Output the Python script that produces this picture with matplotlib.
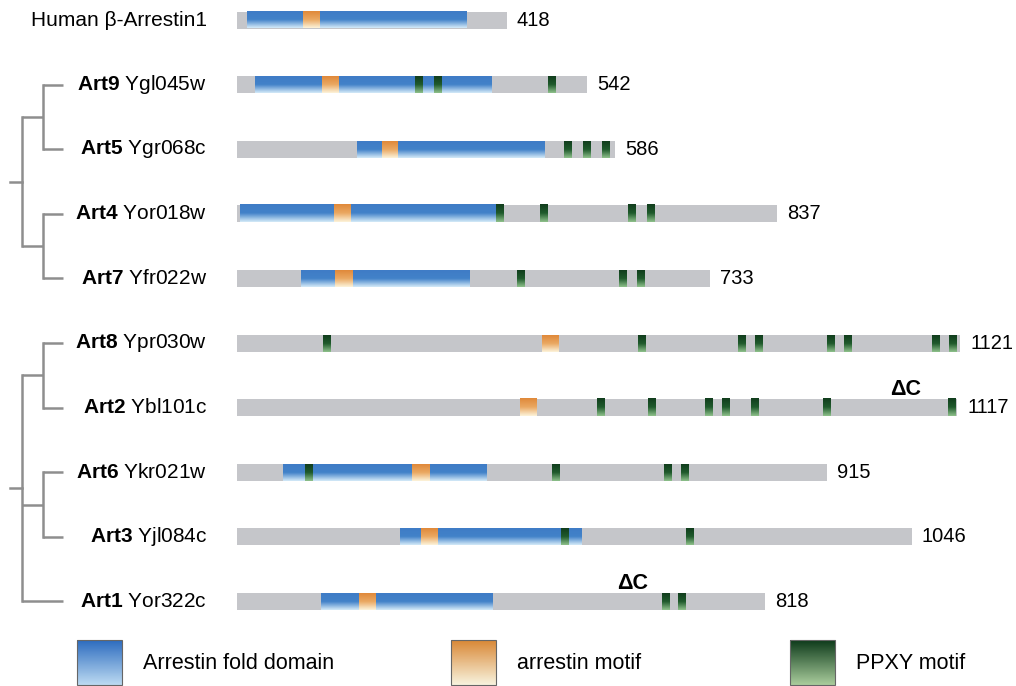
import matplotlib
matplotlib.use("Agg")
import matplotlib.pyplot as plt
import numpy as np
from matplotlib.colors import LinearSegmentedColormap
from matplotlib.patches import Rectangle

plt.rcParams['font.family'] = ['Liberation Sans', 'DejaVu Sans']
plt.rcParams['mathtext.fontset'] = 'custom'
plt.rcParams['mathtext.rm'] = 'Liberation Sans'
plt.rcParams['mathtext.bf'] = 'Liberation Sans:bold'

# protein rows, top to bottom
names = ["Human β-Arrestin1", "Art9", "Art5", "Art4", "Art7",
         "Art8", "Art2", "Art6", "Art3", "Art1"]
orfs = ["", "Ygl045w", "Ygr068c", "Yor018w", "Yfr022w",
        "Ypr030w", "Ybl101c", "Ykr021w", "Yjl084c", "Yor322c"]
lengths = [418, 542, 586, 837, 733, 1121, 1117, 915, 1046, 818]

# arrestin fold domain (start, end) in aa
fold_domains = [(15, 355), (28, 394), (186, 477), (5, 401), (99, 361),
                None, None, (72, 388), (253, 535), (130, 396)]
# arrestin motif (start, end)
arrestin_motifs = [(102, 127), (132, 157), (225, 249), (151, 177), (152, 179),
                   (473, 499), (439, 465), (271, 298), (285, 310), (189, 215)]
# PPXY motif start positions
ppxy_sites = [[], [276, 305, 482], [507, 537, 566], [401, 470, 606, 636],
              [434, 592, 620], [134, 621, 777, 803, 915, 941, 1078, 1104],
              [558, 637, 726, 752, 797, 909, 1102], [105, 488, 662, 688],
              [503, 696], [659, 684]]
PPXY_LEN = 12
# C-terminal truncation marks (row, position)
delta_c = [(6, 1036), (9, 614)]

# tree: nested tuples of row indices
trees = [((1, 2), (3, 4)), ((5, 6), (7, 8), 9)]

legend_labels = ["Arrestin fold domain", "arrestin motif", "PPXY motif"]

# colours
GRAY = '#c5c6ca'
blue_cm = LinearSegmentedColormap.from_list('b', ['#3f7cc6', '#4282c9', '#d4eaf8'])
orange_cm = LinearSegmentedColormap.from_list('o', ['#e0893a', '#eaa862', '#fcf3da'])
green_cm = LinearSegmentedColormap.from_list('g', ['#113d1d', '#1f5a2c', '#8ec08b'])
TREE_COL = '#8e8e8e'

# layout: pixel <-> data
W, H = 1016, 686
X0, SCALE = 237, 0.645      # bar origin (px) and px per aa
Y0, ROW = 20, 64.6          # first row centre (px) and row spacing (px)
BAR_H = 17 / ROW


def px(x):
    return (x - X0) / SCALE


def py(y):
    return (y - Y0) / ROW


fig = plt.figure(figsize=(W / 100, H / 100), dpi=100)
ax = fig.add_axes([0, 0, 1, 1])
ax.set_xlim(px(0), px(W))
ax.set_ylim(py(H), py(0))
ax.axis('off')

grad = np.linspace(0, 1, 64).reshape(-1, 1)


def gbox(x0, x1, y0, y1, cmap):
    ax.imshow(grad, cmap=cmap, extent=(x0, x1, y0, y1), origin='lower',
              aspect='auto', interpolation='bilinear', zorder=3)


for i in range(len(names)):
    top, bot = i - BAR_H / 2, i + BAR_H / 2
    ax.add_patch(Rectangle((0, top), lengths[i], BAR_H, color=GRAY, lw=0, zorder=2))
    if fold_domains[i]:
        s, e = fold_domains[i]
        gbox(s, e, top, bot, blue_cm)
    s, e = arrestin_motifs[i]
    gbox(s, e, top, bot, orange_cm)
    for p in ppxy_sites[i]:
        gbox(p, p + PPXY_LEN, top, bot, green_cm)

    # labels
    if orfs[i]:
        lab = r"$\mathbf{%s}$ %s" % (names[i], orfs[i])
    else:
        lab = names[i]
    ax.text(px(207), i, lab, ha='right', va='center', fontsize=15)
    ax.text(lengths[i] + 16, i, str(lengths[i]), ha='left', va='center', fontsize=14.5)

for r, pos in delta_c:
    ax.text(pos, r - 18 / ROW, "ΔC", ha='center', va='center',
            fontsize=15.5, fontweight='bold')

# tree
X_LEVEL = [px(22), px(43)]
X_LEAF = px(63)


def draw_node(node, depth):
    if isinstance(node, int):
        return node, X_LEAF
    ys = []
    xn = X_LEVEL[depth]
    for child in node:
        yc, xc = draw_node(child, depth + 1)
        ax.plot([xn, xc], [yc, yc], color=TREE_COL, lw=1.8, solid_capstyle='butt')
        ys.append(yc)
    ax.plot([xn, xn], [min(ys), max(ys)], color=TREE_COL, lw=1.8, solid_capstyle='projecting')
    return (min(ys) + max(ys)) / 2, xn


for t in trees:
    yr, xr = draw_node(t, 0)
    ax.plot([px(10), xr], [yr, yr], color=TREE_COL, lw=1.8)

# legend
leg_cmaps = [
    LinearSegmentedColormap.from_list('lb', ['#2d6cbf', '#bcdaf2']),
    LinearSegmentedColormap.from_list('lo', ['#d98836', '#f8f3de']),
    LinearSegmentedColormap.from_list('lg', ['#0e3b1b', '#a9cc9c']),
]
box_x = [77, 451, 790]
for bx, cm, lab in zip(box_x, leg_cmaps, legend_labels):
    gbox(px(bx), px(bx + 45), py(640), py(685), cm)
    ax.add_patch(Rectangle((px(bx), py(640)), 45 / SCALE, 45 / ROW, fill=False,
                           ec='#666666', lw=0.8, zorder=4))
    ax.text(px(bx + 66), py(663), lab, ha='left', va='center', fontsize=15.5)

fig.savefig('out.png', dpi=100)
